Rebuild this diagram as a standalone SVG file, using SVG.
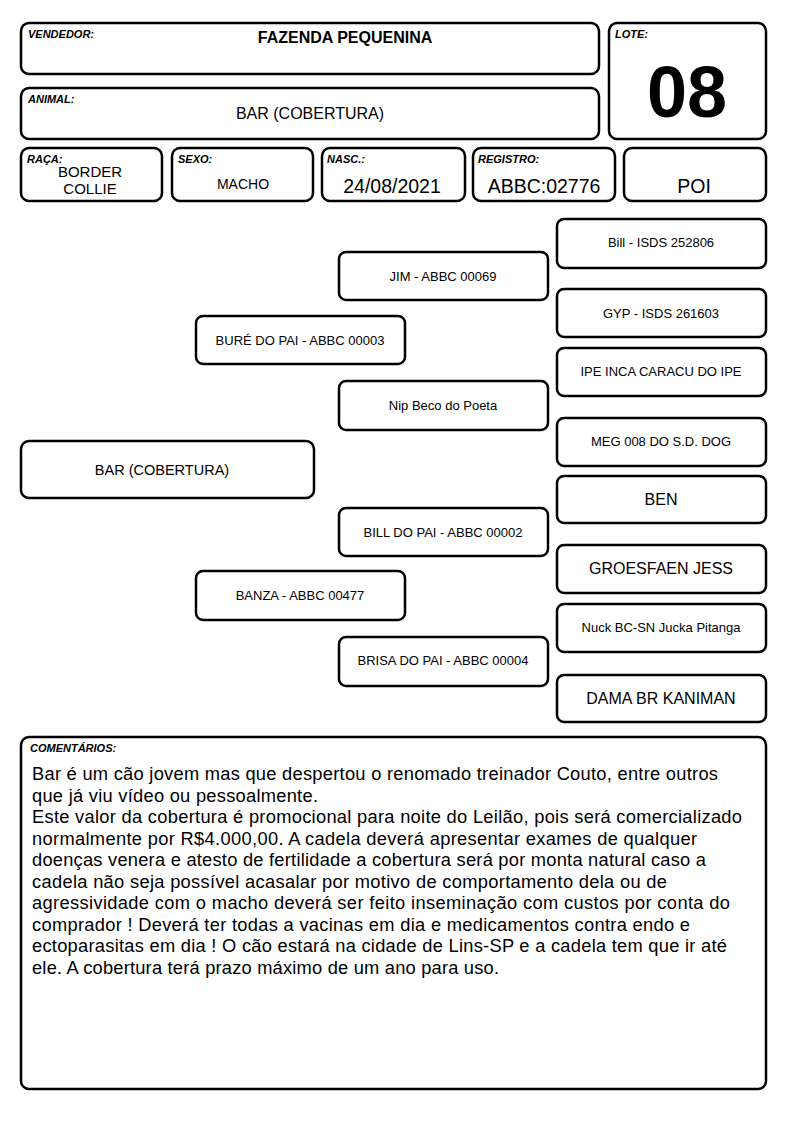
<svg xmlns="http://www.w3.org/2000/svg" width="794" height="1123" viewBox="0 0 794 1123">
<style>
.b{fill:#fff;stroke:#000;stroke-width:2.5}
.lab{font-family:"Liberation Sans",Arial,sans-serif;font-size:11px;font-weight:bold;font-style:italic;fill:#000}
.t{font-family:"Liberation Sans",Arial,sans-serif;fill:#000;text-anchor:middle}
.n{font-size:13px}
.m{font-size:16px}
.c{font-family:"Liberation Sans",Arial,sans-serif;font-size:18.3px;fill:#000}
</style>
<rect width="794" height="1123" fill="#fff"/>
<g id="vendedor"><rect class="b" x="21" y="23" width="578" height="51" rx="8"/><text class="lab" x="28" y="38">VENDEDOR:</text><text class="t" x="345" y="43" font-size="16" font-weight="bold">FAZENDA PEQUENINA</text></g>
<g id="lote"><rect class="b" x="609" y="23" width="157" height="116" rx="8"/><text class="lab" x="615" y="38">LOTE:</text><text class="t" x="687" y="117" font-size="72" font-weight="bold">08</text></g>
<g id="animal"><rect class="b" x="21" y="88" width="578" height="51" rx="8"/><text class="lab" x="28" y="103">ANIMAL:</text><text class="t" x="310" y="119" font-size="16">BAR (COBERTURA)</text></g>
<g id="raca"><rect class="b" x="21" y="148" width="141" height="53" rx="8"/><text class="lab" x="27" y="163">RAÇA:</text><text class="t" x="90" y="177" font-size="15">BORDER</text><text class="t" x="90" y="194" font-size="15">COLLIE</text></g>
<g id="sexo"><rect class="b" x="172" y="148" width="141" height="53" rx="8"/><text class="lab" x="178" y="163">SEXO:</text><text class="t" x="243" y="189" font-size="14">MACHO</text></g>
<g id="nasc"><rect class="b" x="322" y="148" width="143" height="53" rx="8"/><text class="lab" x="327" y="163">NASC.:</text><text class="t" x="392" y="193" font-size="19.5">24/08/2021</text></g>
<g id="registro"><rect class="b" x="473" y="148" width="142" height="53" rx="8"/><text class="lab" x="478" y="163">REGISTRO:</text><text class="t" x="544" y="193" font-size="19.5">ABBC:02776</text></g>
<g id="poi"><rect class="b" x="624" y="148" width="142" height="53" rx="8"/><text class="t" x="694" y="193" font-size="19.5">POI</text></g>

<g id="bill"><rect class="b" x="557" y="219" width="209" height="49" rx="7"/><text class="t n" x="661" y="247">Bill - ISDS 252806</text></g>
<g id="jim"><rect class="b" x="339" y="252" width="209" height="48" rx="7"/><text class="t n" x="443" y="281">JIM - ABBC 00069</text></g>
<g id="gyp"><rect class="b" x="557" y="289" width="209" height="48" rx="7"/><text class="t n" x="661" y="318">GYP - ISDS 261603</text></g>
<g id="bure"><rect class="b" x="196" y="316" width="209" height="48" rx="7"/><text class="t n" x="300" y="345">BURÉ DO PAI - ABBC 00003</text></g>
<g id="ipe"><rect class="b" x="557" y="348" width="209" height="48" rx="7"/><text class="t n" x="661" y="376">IPE INCA CARACU DO IPE</text></g>
<g id="nip"><rect class="b" x="339" y="381" width="209" height="49" rx="7"/><text class="t n" x="443" y="410">Nip Beco do Poeta</text></g>
<g id="meg"><rect class="b" x="557" y="418" width="209" height="48" rx="7"/><text class="t n" x="661" y="446">MEG 008 DO S.D. DOG</text></g>
<g id="bar"><rect class="b" x="21" y="441" width="293" height="57" rx="8"/><text class="t" x="162" y="475" font-size="14.5">BAR (COBERTURA)</text></g>
<g id="ben"><rect class="b" x="557" y="476" width="209" height="47" rx="7"/><text class="t m" x="661" y="505">BEN</text></g>
<g id="billdopai"><rect class="b" x="339" y="508" width="209" height="48" rx="7"/><text class="t n" x="443" y="537">BILL DO PAI - ABBC 00002</text></g>
<g id="groesfaen"><rect class="b" x="557" y="545" width="209" height="48" rx="7"/><text class="t m" x="661" y="574">GROESFAEN JESS</text></g>
<g id="banza"><rect class="b" x="196" y="571" width="209" height="49" rx="7"/><text class="t n" x="300" y="600">BANZA - ABBC 00477</text></g>
<g id="nuck"><rect class="b" x="557" y="604" width="209" height="48" rx="7"/><text class="t n" x="661" y="632">Nuck BC-SN Jucka Pitanga</text></g>
<g id="brisa"><rect class="b" x="339" y="637" width="209" height="49" rx="7"/><text class="t n" x="443" y="665">BRISA DO PAI - ABBC 00004</text></g>
<g id="dama"><rect class="b" x="557" y="675" width="209" height="47" rx="7"/><text class="t m" x="661" y="704">DAMA BR KANIMAN</text></g>
<g id="connectors"></g>

<g id="comentarios"><rect class="b" x="21" y="737" width="745" height="352" rx="8"/><text class="lab" x="30" y="752">COMENTÁRIOS:</text>
<text class="c" x="32" y="780" textLength="686">Bar é um cão jovem mas que despertou o renomado treinador Couto, entre outros</text>
<text class="c" x="32" y="802" textLength="286">que já viu vídeo ou pessoalmente.</text>
<text class="c" x="32" y="823" textLength="710">Este valor da cobertura é promocional para noite do Leilão, pois será comercializado</text>
<text class="c" x="32" y="845" textLength="665">normalmente por R$4.000,00. A cadela deverá apresentar exames de qualquer</text>
<text class="c" x="32" y="866" textLength="674">doenças venera e atesto de fertilidade a cobertura será por monta natural caso a</text>
<text class="c" x="32" y="888" textLength="635">cadela não seja possível acasalar por motivo de comportamento dela ou de</text>
<text class="c" x="32" y="909" textLength="698">agressividade com o macho deverá ser feito inseminação com custos por conta do</text>
<text class="c" x="32" y="931" textLength="658">comprador ! Deverá ter todas a vacinas em dia e medicamentos contra endo e</text>
<text class="c" x="32" y="952" textLength="695">ectoparasitas em dia ! O cão estará na cidade de Lins-SP e a cadela tem que ir até</text>
<text class="c" x="32" y="974" textLength="467">ele. A cobertura terá prazo máximo de um ano para uso.</text>
</g>
</svg>
